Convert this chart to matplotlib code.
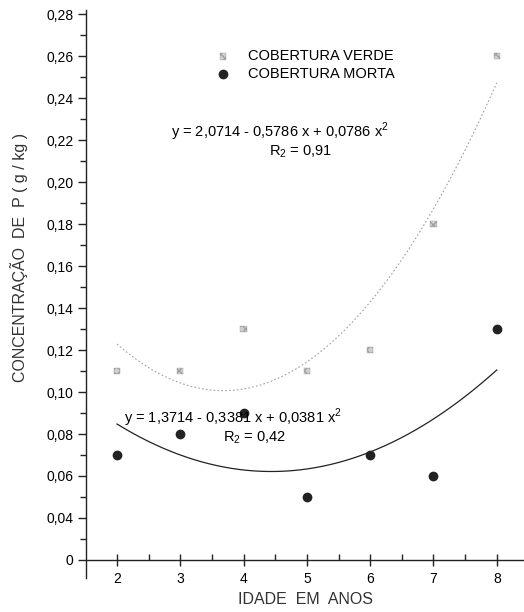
import numpy as np
import matplotlib

matplotlib.use("Agg")
import matplotlib.pyplot as plt
from matplotlib.ticker import FixedLocator

plt.rcParams["font.family"] = ["Liberation Sans", "DejaVu Sans"]
plt.rcParams["mathtext.fontset"] = "custom"
plt.rcParams["mathtext.rm"] = "Liberation Sans"

# dados
idade = [2, 3, 4, 5, 6, 7, 8]
verde = [0.11, 0.11, 0.13, 0.11, 0.12, 0.18, 0.26]
morta = [0.07, 0.08, 0.09, 0.05, 0.07, 0.06, 0.13]

# coeficientes das equacoes (escala x10 no grafico)
coef_verde = [0.0786, -0.5786, 2.0714]
coef_morta = [0.0381, -0.3381, 1.3714]

y_ticks = [0.02, 0.04, 0.06, 0.08, 0.10, 0.12, 0.14, 0.16, 0.18, 0.20, 0.22, 0.24, 0.26, 0.28]
y_labels = ["0", "0,04", "0,06", "0,08", "0,10", "0,12", "0,14", "0,16", "0,18",
            "0,20", "0,22", "0,24", "0,26", "0,28"]

fig = plt.figure(figsize=(5.24, 6.12), dpi=100)
ax = fig.add_axes([86 / 524, 34 / 612, 438 / 524, 568 / 612])

xs = np.linspace(2, 8, 200)
ax.plot(xs, np.polyval(coef_verde, xs) / 10, color="#a0a0a0", lw=0.8, ls=(0, (1.5, 2)))
ax.plot(xs, np.polyval(coef_morta, xs) / 10, color="#222222", lw=0.9)

ax.scatter(idade, verde, marker="s", s=20, facecolor="#d0d0d0", edgecolor="#a0a0a0",
           hatch="xxxx", linewidth=0.3, label="COBERTURA VERDE", zorder=3)
ax.scatter(idade, morta, marker="o", s=36, color="#222222", label="COBERTURA MORTA", zorder=3)

ax.set_xlim(1.51, 8.43)
ax.set_ylim(0.0114, 0.282)
ax.spines["bottom"].set_position(("data", 0.02))
ax.spines["top"].set_visible(False)
ax.spines["right"].set_visible(False)
for s in ["left", "bottom"]:
    ax.spines[s].set_linewidth(1.0)
    ax.spines[s].set_color("#222222")

ax.set_xticks(idade)
ax.xaxis.set_minor_locator(FixedLocator(np.arange(2.5, 8.0, 1.0)))
ax.yaxis.set_major_locator(FixedLocator(y_ticks))
ax.set_yticklabels(y_labels)
ax.yaxis.set_minor_locator(FixedLocator(np.arange(0.03, 0.28, 0.02)))
ax.tick_params(axis="x", which="major", direction="inout", length=8, width=1, labelsize=10, pad=5, color="#222222")
ax.tick_params(axis="x", which="minor", direction="in", length=4, width=1, color="#222222")
ax.tick_params(axis="y", which="major", direction="out", length=6, width=1, labelsize=10, pad=3, color="#222222")
ax.tick_params(axis="y", which="minor", direction="out", length=4, width=1, color="#222222")

fig.text(306 / 524, 1 - 599 / 612, "IDADE  EM  ANOS", ha="center", va="center", fontsize=11.5, color="#333333")
fig.text(19 / 524, 1 - 257 / 612, "CONCENTRAÇÃO  DE  P ( g / kg )", rotation=90,
         ha="center", va="center", fontsize=11.5, color="#333333")

ax.text(4.57, 0.2238, r"y = 2,0714 - 0,5786 x + 0,0786 x$^{2}$", ha="center", va="center", fontsize=10.5)
ax.text(4.90, 0.2143, r"R$_{2}$ = 0,91", ha="center", va="center", fontsize=10.5)
ax.text(3.83, 0.0876, r"y = 1,3714 - 0,3381 x + 0,0381 x$^{2}$", ha="center", va="center", fontsize=10.5)
ax.text(4.18, 0.0781, r"R$_{2}$ = 0,42", ha="center", va="center", fontsize=10.5)

ax.legend(loc="upper left", bbox_to_anchor=(201 / 524, 1 - 42 / 612), bbox_transform=fig.transFigure,
          frameon=False, fontsize=10.5, handletextpad=0.7, labelspacing=0.25, borderpad=0)

fig.savefig("out.png", dpi=100)
